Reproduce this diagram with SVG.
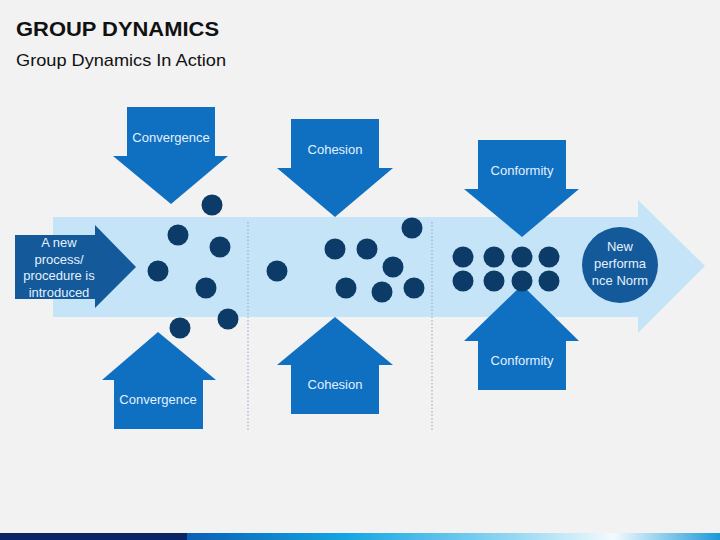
<svg xmlns="http://www.w3.org/2000/svg" width="720" height="540" viewBox="0 0 720 540">
<defs>
<style>
.t{font-family:"Liberation Sans",Arial,sans-serif;}
.lbl{font-family:"Liberation Sans",Arial,sans-serif;font-size:13px;fill:#e3f1ff;text-anchor:middle;}
.arr{fill:#0f6fc0;}
.dot{fill:#0c3b68;}
.dark{fill:#14599a;}
.sep{stroke:#8ea6c6;stroke-width:1;stroke-dasharray:1.5 2;fill:none;}
</style>
<linearGradient id="bar" x1="0" y1="0" x2="1" y2="0">
<stop offset="0" stop-color="#0a5fb8"/>
<stop offset="0.3" stop-color="#14a6e2"/>
<stop offset="0.6" stop-color="#8fd5f2"/>
<stop offset="0.8" stop-color="#f4fafd"/>
<stop offset="1" stop-color="#1a9ad8"/>
</linearGradient>
</defs>
<rect width="720" height="540" fill="#f2f2f2"/>
<text class="t" x="16" y="36" font-size="21" font-weight="bold" fill="#111" textLength="203" lengthAdjust="spacingAndGlyphs">GROUP DYNAMICS</text>
<text class="t" x="16" y="66" font-size="17" fill="#111" textLength="210" lengthAdjust="spacingAndGlyphs">Group Dynamics In Action</text>

<g id="main-arrow">
<polygon points="53,217 638,217 638,200 705,266 638,333 638,317 53,317" fill="#c5e4f8"/>
</g>

<g id="connectors">
<line class="sep" x1="248" y1="222" x2="248" y2="432"/>
<line class="sep" x1="432" y1="222" x2="432" y2="432"/>
</g>

<g id="start">
<polygon class="dark" points="15,235 95,235 95,225 136,267 95,308 95,299 15,299"/>
<text class="lbl" x="59" y="247">A new</text>
<text class="lbl" x="59" y="264">process/</text>
<text class="lbl" x="59" y="280">procedure is</text>
<text class="lbl" x="59" y="297">introduced</text>
</g>

<g id="convergence-top">
<polygon class="arr" points="127,107 215,107 215,156 228,156 171,204 113,156 127,156"/>
<text class="lbl" x="171" y="142">Convergence</text>
</g>
<g id="convergence-bottom">
<polygon class="arr" points="158,332 216,380 203,380 203,429 114,429 114,380 102,380"/>
<text class="lbl" x="158" y="404">Convergence</text>
</g>

<g id="cohesion-top">
<polygon class="arr" points="291,119 379,119 379,168 393,168 335,217 277,168 291,168"/>
<text class="lbl" x="335" y="154">Cohesion</text>
</g>
<g id="cohesion-bottom">
<polygon class="arr" points="335,317 393,365 379,365 379,414 291,414 291,365 277,365"/>
<text class="lbl" x="335" y="389">Cohesion</text>
</g>

<g id="conformity-top">
<polygon class="arr" points="478,140 566,140 566,189 579,189 522,237 464,189 478,189"/>
<text class="lbl" x="522" y="175">Conformity</text>
</g>
<g id="conformity-bottom">
<polygon class="arr" points="522,285 579,341 566,341 566,390 478,390 478,341 464,341"/>
<text class="lbl" x="522" y="365">Conformity</text>
</g>

<g id="dots-stage1">
<circle class="dot" cx="212" cy="205" r="10.5"/>
<circle class="dot" cx="178" cy="235" r="10.5"/>
<circle class="dot" cx="220" cy="247" r="10.5"/>
<circle class="dot" cx="158" cy="271" r="10.5"/>
<circle class="dot" cx="206" cy="288" r="10.5"/>
<circle class="dot" cx="228" cy="319" r="10.5"/>
<circle class="dot" cx="180" cy="328" r="10.5"/>
</g>
<g id="dots-stage2">
<circle class="dot" cx="277" cy="271" r="10.5"/>
<circle class="dot" cx="335" cy="249" r="10.5"/>
<circle class="dot" cx="367" cy="249" r="10.5"/>
<circle class="dot" cx="412" cy="228" r="10.5"/>
<circle class="dot" cx="393" cy="267" r="10.5"/>
<circle class="dot" cx="346" cy="288" r="10.5"/>
<circle class="dot" cx="382" cy="292" r="10.5"/>
<circle class="dot" cx="414" cy="288" r="10.5"/>
</g>
<g id="dots-stage3">
<circle class="dot" cx="463" cy="257" r="10.5"/>
<circle class="dot" cx="494" cy="257" r="10.5"/>
<circle class="dot" cx="522" cy="257" r="10.5"/>
<circle class="dot" cx="549" cy="257" r="10.5"/>
<circle class="dot" cx="463" cy="281" r="10.5"/>
<circle class="dot" cx="494" cy="281" r="10.5"/>
<circle class="dot" cx="522" cy="281" r="10.5"/>
<circle class="dot" cx="549" cy="281" r="10.5"/>
</g>

<g id="new-norm">
<circle class="dark" cx="620" cy="265" r="38"/>
<text class="lbl" x="620" y="251">New</text>
<text class="lbl" x="620" y="268">performa</text>
<text class="lbl" x="620" y="285">nce Norm</text>
</g>

<rect x="0" y="533" width="187" height="7" fill="#0b2466"/>
<rect x="187" y="533" width="533" height="7" fill="url(#bar)"/>
</svg>
